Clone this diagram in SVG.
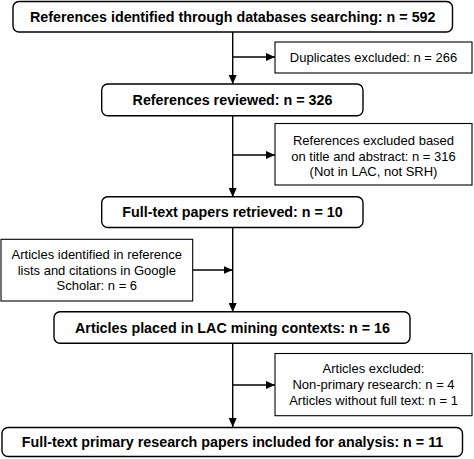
<svg xmlns="http://www.w3.org/2000/svg" width="474" height="459" viewBox="0 0 474 459">
<defs>
<style>
.main rect{fill:#fff;stroke:#000;stroke-width:1.4}
.side rect{fill:#fff;stroke:#000;stroke-width:1.1}
.main text{font-family:"Liberation Sans",Arial,sans-serif;font-weight:bold;font-size:14.3px;text-anchor:middle;fill:#000}
.side text{font-family:"Liberation Sans",Arial,sans-serif;font-size:13px;text-anchor:middle;fill:#000}
#connectors line{stroke:#000;stroke-width:1.4;fill:none}
</style>
<marker id="ah" markerUnits="userSpaceOnUse" markerWidth="9" markerHeight="8" refX="9" refY="4" orient="auto">
<path d="M0,0 L9,4 L0,8 z" fill="#000"/>
</marker>
</defs>
<rect width="474" height="459" fill="#fff"/>
<g id="connectors">
<line x1="232.7" y1="32" x2="232.7" y2="84" marker-end="url(#ah)"/>
<line x1="232.7" y1="57" x2="275" y2="57" marker-end="url(#ah)"/>
<line x1="232.7" y1="116" x2="232.7" y2="197" marker-end="url(#ah)"/>
<line x1="232.7" y1="155" x2="275" y2="155" marker-end="url(#ah)"/>
<line x1="232.7" y1="227.5" x2="232.7" y2="312" marker-end="url(#ah)"/>
<line x1="192.7" y1="270" x2="232.7" y2="270" marker-end="url(#ah)"/>
<line x1="232.7" y1="343.5" x2="232.7" y2="427" marker-end="url(#ah)"/>
<line x1="232.7" y1="385" x2="275" y2="385" marker-end="url(#ah)"/>
</g>
<g id="n1" class="main">
<rect x="13" y="1.5" width="439.5" height="30.5" rx="6"/>
<text x="232.7" y="22">References identified through databases searching: n = 592</text>
</g>
<g id="n2" class="side">
<rect x="275" y="42" width="197" height="31"/>
<text x="373.5" y="62">Duplicates excluded: n = 266</text>
</g>
<g id="n3" class="main">
<rect x="101.7" y="84" width="261.3" height="31.7" rx="6"/>
<text x="232.5" y="105">References reviewed: n = 326</text>
</g>
<g id="n4" class="side">
<rect x="275" y="123.5" width="197" height="61.5"/>
<text x="373.5" y="145">References excluded based</text>
<text x="373.5" y="160.5">on title and abstract: n = 316</text>
<text x="373.5" y="176">(Not in LAC, not SRH)</text>
</g>
<g id="n5" class="main">
<rect x="101.7" y="196.7" width="261.3" height="30.8" rx="6"/>
<text x="232.5" y="217.3">Full-text papers retrieved: n = 10</text>
</g>
<g id="n6" class="side">
<rect x="1" y="239.3" width="191.7" height="61.7"/>
<text x="96.8" y="259.3">Articles identified in reference</text>
<text x="96.8" y="274.5">lists and citations in Google</text>
<text x="96.8" y="289.5">Scholar: n = 6</text>
</g>
<g id="n7" class="main">
<rect x="54" y="311.7" width="356" height="31.6" rx="6"/>
<text x="232.5" y="332.5">Articles placed in LAC mining contexts: n = 16</text>
</g>
<g id="n8" class="side">
<rect x="275" y="353.5" width="197" height="62.2"/>
<text x="373.5" y="373">Articles excluded:</text>
<text x="373.5" y="389">Non-primary research: n = 4</text>
<text x="373.5" y="404.5">Articles without full text: n = 1</text>
</g>
<g id="n9" class="main">
<rect x="2" y="427.5" width="460.5" height="29" rx="6"/>
<text x="232.5" y="447">Full-text primary research papers included for analysis: n = 11</text>
</g>
</svg>
